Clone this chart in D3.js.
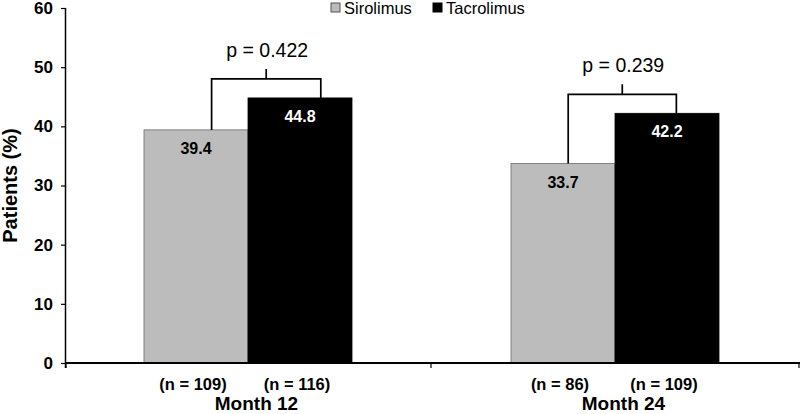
<!DOCTYPE html>
<html><head><meta charset="utf-8">
<script src="https://cdn.jsdelivr.net/npm/d3@7"></script>
<style>body{margin:0;background:#fff}svg{display:block;font-family:"Liberation Sans",Arial,sans-serif}</style>
</head><body><svg id="c" width="800" height="414"></svg>
<script>
const categories = ["Month 12", "Month 24"];
const series = ["Sirolimus", "Tacrolimus"];
const sirolimus = [39.4, 33.7];
const tacrolimus = [44.8, 42.2];
const nSirolimus = ["(n = 109)", "(n = 86)"];
const nTacrolimus = ["(n = 116)", "(n = 109)"];
const pValues = ["p = 0.422", "p = 0.239"];
const yTicks = [0, 10, 20, 30, 40, 50, 60];
const colors = ["#bcbcbc", "#000000"];

(function () {
const svg = d3.select("#c");
const mLeft = 66, mRight = 800, mTop = 8, mBottom = 363;
const y = d3.scaleLinear().domain([0, 60]).range([mBottom, mTop]);
const x0 = d3.scaleBand().domain(categories).range([mLeft, mRight]).padding(0);
const groupW = 208;
const x1 = d3.scaleBand().domain(series).range([0, groupW]).padding(0);
const gOff = (x0.bandwidth() - groupW) / 2 - 1.5;

const values = [sirolimus, tacrolimus];
const nLabels = [nSirolimus, nTacrolimus];

series.forEach((s, si) => {
  svg.append("g").selectAll("rect").data(categories).join("rect")
    .attr("x", c => x0(c) + gOff + x1(s))
    .attr("y", (c, i) => y(values[si][i]))
    .attr("width", x1.bandwidth())
    .attr("height", (c, i) => y(0) - y(values[si][i]))
    .attr("fill", colors[si])
    .attr("stroke", si === 0 ? "#6a6a6a" : "#000")
    .attr("stroke-width", 0.8);
  svg.append("g").selectAll("text").data(categories).join("text")
    .attr("x", c => x0(c) + gOff + x1(s) + x1.bandwidth() / 2)
    .attr("y", (c, i) => y(values[si][i]) + 24)
    .attr("text-anchor", "middle")
    .attr("font-size", 16).attr("font-weight", "bold")
    .attr("fill", si === 0 ? "#000" : "#fff")
    .text((c, i) => values[si][i].toFixed(1));
  svg.append("g").selectAll("text").data(categories).join("text")
    .attr("x", c => x0(c) + gOff + x1(s) + x1.bandwidth() / 2 - 3)
    .attr("y", 390)
    .attr("text-anchor", "middle")
    .attr("font-size", 16.5).attr("font-weight", "bold")
    .text((c, i) => nLabels[si][i]);
});

const legFrac = [[0.65, 0.7], [0.55, 0.59]];
categories.forEach((c, i) => {
  const xa = x0(c) + gOff + x1(series[0]) + x1.bandwidth() * legFrac[i][0];
  const xb = x0(c) + gOff + x1(series[1]) + x1.bandwidth() * legFrac[i][1];
  const ya = y(sirolimus[i]), yb = y(tacrolimus[i]);
  const yTop = y(Math.max(sirolimus[i], tacrolimus[i])) - 19;
  const xm = (xa + xb) / 2;
  svg.append("path")
    .attr("d", `M${xa},${ya}V${yTop}H${xb}V${yb}M${xm},${yTop}V${yTop - 10}`)
    .attr("fill", "none").attr("stroke", "#000").attr("stroke-width", 1.7);
  svg.append("text").attr("x", xm + 1).attr("y", yTop - 22)
    .attr("text-anchor", "middle").attr("font-size", 19.5).text(pValues[i]);
});

const yAx = svg.append("g").attr("transform", `translate(${mLeft},0)`)
  .call(d3.axisLeft(y).tickValues(yTicks).tickSize(5).tickPadding(8));
yAx.select(".domain").attr("stroke-width", 1.5).attr("d", `M-0.5,${mTop}V${mBottom + 5}`);
yAx.selectAll(".tick line").attr("stroke-width", 1.2);
yAx.selectAll("text").attr("font-size", 17).attr("font-weight", "bold")
  .attr("font-family", "Liberation Sans, Arial, sans-serif").attr("fill", "#000");

const xAx = svg.append("g").attr("transform", `translate(0,${mBottom})`);
xAx.append("line").attr("x1", mLeft).attr("x2", mRight).attr("stroke", "#000").attr("stroke-width", 1.8);
const bounds = [mLeft, x0(categories[1]) - 2, mRight - 1];
xAx.selectAll("line.t").data(bounds).join("line").attr("class", "t")
  .attr("x1", d => d).attr("x2", d => d).attr("y1", 0).attr("y2", 5)
  .attr("stroke", "#000").attr("stroke-width", 1.2);
xAx.selectAll("text").data(categories).join("text")
  .attr("x", c => x0(c) + x0.bandwidth() / 2 + 7)
  .attr("y", 410 - mBottom).attr("text-anchor", "middle")
  .attr("font-size", 19).attr("font-weight", "bold").text(c => c);

svg.append("text").attr("transform", `translate(17,${(mTop + mBottom) / 2}) rotate(-90)`)
  .attr("text-anchor", "middle").attr("font-size", 20).attr("font-weight", "bold")
  .text("Patients (%)");

const legX = [331, 433];
series.forEach((s, i) => {
  svg.append("rect").attr("x", legX[i]).attr("y", 3).attr("width", 9).attr("height", 9)
    .attr("fill", colors[i]).attr("stroke", i === 0 ? "#555" : "#000").attr("stroke-width", 1);
  svg.append("text").attr("x", legX[i] + 13).attr("y", 14).attr("font-size", 16.5).text(s);
});
})();
</script></body></html>
